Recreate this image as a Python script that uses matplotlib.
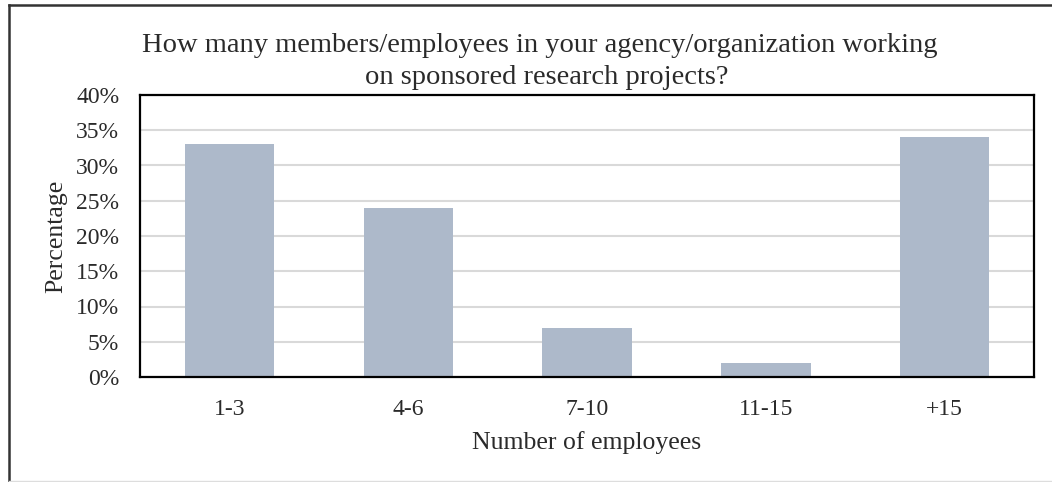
import matplotlib
matplotlib.use("Agg")
import matplotlib.pyplot as plt
from matplotlib.lines import Line2D
from matplotlib.ticker import PercentFormatter

categories = ["1-3", "4-6", "7-10", "11-15", "+15"]
percentages = [33, 24, 7, 2, 34]
y_ticks = [0, 5, 10, 15, 20, 25, 30, 35, 40]

plt.rcParams["font.family"] = ["Liberation Serif", "DejaVu Serif"]

W, H = 1052, 482
fig = plt.figure(figsize=(W / 100, H / 100), dpi=100)
fig.patch.set_facecolor("white")

# plot area in pixel units
left, right, top, bottom = 140, 1034, 95, 377
ax = fig.add_axes([left / W, 1 - bottom / H, (right - left) / W, (bottom - top) / H])

x = range(len(categories))
ax.bar(x, percentages, width=0.5, color="#ADB9CA", zorder=2)
ax.set_xlim(-0.5, len(categories) - 0.5)
ax.set_ylim(0, 40)
ax.set_yticks(y_ticks)
ax.yaxis.set_major_formatter(PercentFormatter(decimals=0))
ax.set_xticks(list(x))
ax.set_xticklabels(categories)
ax.grid(axis="y", color="#D9D9D9", linewidth=1.5, zorder=0)
ax.set_axisbelow(True)

for s in ax.spines.values():
    s.set_color("black")
    s.set_linewidth(1.6)
ax.tick_params(axis="both", length=0, labelsize=17, colors="#2a2a2a")
ax.tick_params(axis="y", pad=15)
ax.tick_params(axis="x", pad=16)

ax.set_xlabel("Number of employees", fontsize=18.5, color="#2a2a2a", labelpad=7.5)
ax.set_ylabel("Percentage", fontsize=18.5, color="#2a2a2a", labelpad=6)

fig.text(540 / W, 1 - 45 / H, "How many members/employees in your agency/organization working",
         ha="center", va="center", fontsize=20.5, color="#2a2a2a")
fig.text(547 / W, 1 - 77 / H, "on sponsored research projects?",
         ha="center", va="center", fontsize=20.5, color="#2a2a2a")

# outer frame
fig.add_artist(Line2D([9.5 / W, 1], [1 - 5 / H, 1 - 5 / H], transform=fig.transFigure,
                      color="#333333", linewidth=1.8))
fig.add_artist(Line2D([9.5 / W, 9.5 / W], [0, 1 - 5 / H], transform=fig.transFigure,
                      color="#333333", linewidth=1.8))
fig.add_artist(Line2D([9.5 / W, 1], [1.5 / H, 1.5 / H], transform=fig.transFigure,
                      color="#DDDDDD", linewidth=1.0))

fig.savefig("out.png", dpi=100, facecolor="white")
